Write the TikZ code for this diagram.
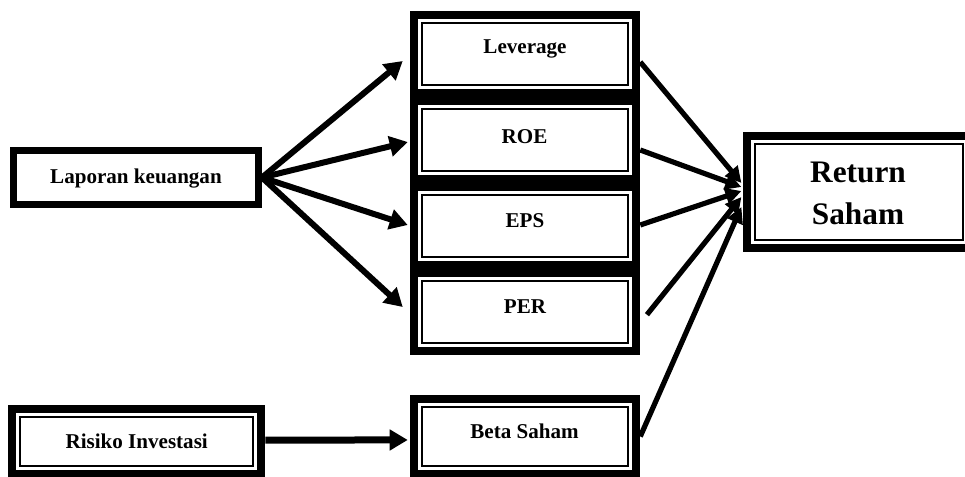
\documentclass[tikz,border=0pt]{standalone}
\usepackage{fontspec}
\setmainfont{Liberation Serif}
\usetikzlibrary{arrows.meta}
\tikzset{
  dbox/.style={draw, line width=6.4pt, fill=white, inner sep=0pt,
    path picture={\draw[line width=1.6pt]
      ([shift={(5.9pt,5.9pt)}]path picture bounding box.south west) rectangle
      ([shift={(-5.9pt,-5.9pt)}]path picture bounding box.north east);}},
  sbox/.style={draw, line width=5.25pt, fill=white, inner sep=0pt},
  lbl/.style={font=\fontsize{15.8pt}{19pt}\selectfont\bfseries, anchor=base, inner sep=0pt},
  bigl/.style={font=\fontsize{23.5pt}{31.5pt}\selectfont\bfseries, align=center, inner sep=0pt},
  arrL/.style={line width=4.5pt, -{Triangle[length=13.5pt,width=15pt]}},
  arrR/.style={line width=3.9pt, -{Triangle[length=12pt,width=12pt]}},
}
\begin{document}
\begin{tikzpicture}[x=0.75pt,y=-0.75pt]
\clip (0,0) rectangle (965,476);
\fill[white] (0,0) rectangle (965,476);
% boxes
\node[sbox, minimum width=183.75pt, minimum height=40.5pt] (lap) at (136,177.5) {};
\node[dbox, minimum width=186.75pt, minimum height=48.75pt] (ris) at (136.5,441.5) {};
\node[dbox, minimum width=166.5pt, minimum height=58.5pt] (lev) at (525,54) {};
\node[dbox, minimum width=166.5pt, minimum height=58.5pt] (roe) at (525,140) {};
\node[dbox, minimum width=166.5pt, minimum height=58.5pt] (eps) at (525,226) {};
\node[dbox, minimum width=166.5pt, minimum height=58.5pt] (per) at (525,312) {};
\node[dbox, minimum width=166.5pt, minimum height=56.25pt] (beta) at (525,436.5) {};
\node[dbox, minimum width=168pt, minimum height=84pt] (ret) at (859,192) {};
% labels
\node[lbl] (laptx) at (136,183) {Laporan keuangan};
\node[lbl] (ristx) at (136.7,448) {Risiko Investasi};
\node[lbl] (levtx) at (525,53) {Leverage};
\node[lbl] (roetx) at (524.5,143) {ROE};
\node[lbl] (epstx) at (525,227) {EPS};
\node[lbl] (pertx) at (525,313) {PER};
\node[lbl] (betatx) at (524.5,438) {Beta Saham};
\node[bigl] (rettx) at (858,193) {Return\\Saham};
% left arrows
\draw[arrL] (lap.east) -- ([xshift=-5.25pt,yshift=-5.25pt]lev.west);
\draw[arrL] (lap.east) -- ([xshift=-1.5pt,yshift=-1.5pt]roe.west);
\draw[arrL] (lap.east) -- ([xshift=-1.5pt,yshift=0.75pt]eps.west);
\draw[arrL] (lap.east) -- ([xshift=-5.25pt,yshift=3.75pt]per.west);
\draw[line width=5.25pt, -{Triangle[length=13.5pt,width=15pt]}]
  ([yshift=1.1pt]ris.east) -- ([xshift=-1.5pt,yshift=-2.6pt]beta.west);
% right arrows
\draw[arrR] ([yshift=-6pt]lev.east) -- ([xshift=-1pt,yshift=6.75pt]ret.west);
\draw[arrR] ([yshift=-7.5pt]roe.east) -- ([xshift=-1pt,yshift=3.75pt]ret.west);
\draw[arrR] ([yshift=0.75pt]eps.east) -- ([xshift=-1pt,yshift=0.75pt]ret.west);
\draw[arrR] ([xshift=5pt,yshift=-2pt]per.east) -- ([xshift=-1pt,yshift=-3.75pt]ret.west);
\draw[arrR] (beta.east) -- ([xshift=-1pt,yshift=-11.25pt]ret.west);
\end{tikzpicture}
\end{document}
